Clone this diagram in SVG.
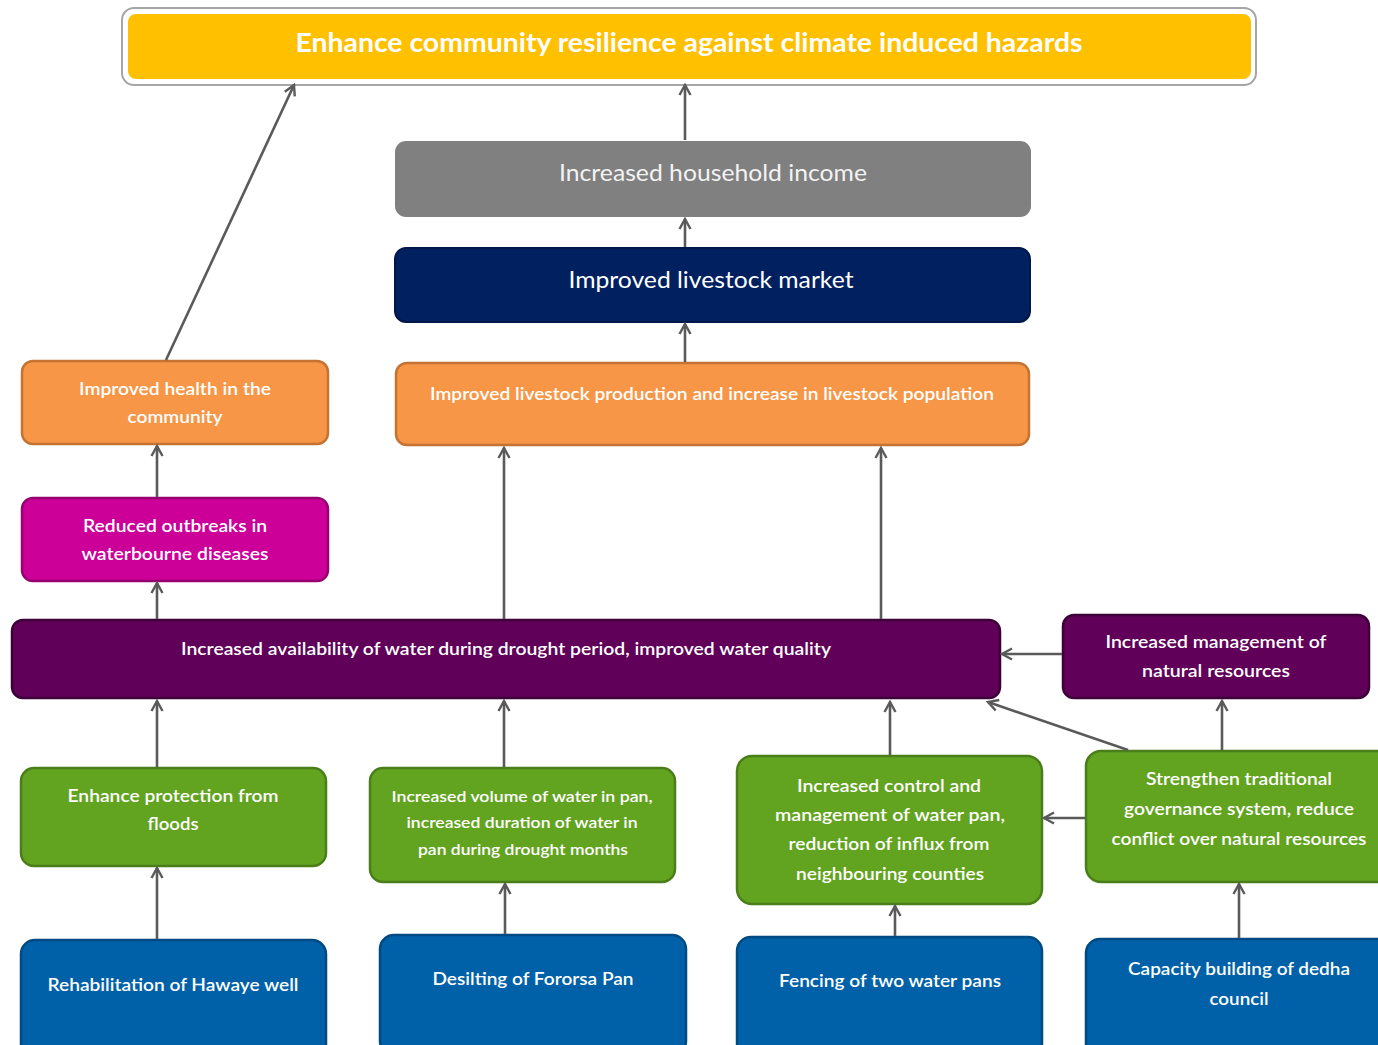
<svg xmlns="http://www.w3.org/2000/svg" width="1378" height="1045" viewBox="0 0 1378 1045">
<defs>
<marker id="ah" viewBox="0 0 14 14" refX="12" refY="7" markerWidth="14" markerHeight="14" markerUnits="userSpaceOnUse" orient="auto">
<path d="M2,1.5 L12,7 L2,12.5" fill="none" stroke="#5a5a5a" stroke-width="2.4" stroke-linejoin="miter"/>
</marker>
</defs>
<style>
text{font-family:Lato,"Liberation Sans",sans-serif;fill:#fff;text-anchor:middle;dominant-baseline:central}
.c{stroke:#5a5a5a;stroke-width:2.6;fill:none;marker-end:url(#ah)}
.b{stroke-width:2.5}
.org{fill:#F79646;stroke:#C47332}
.mag{fill:#CC0099;stroke:#99006F}
.pur{fill:#600058;stroke:#3E0038}
.grn{fill:#62A420;stroke:#4A7E18}
.blu{fill:#0061A8;stroke:#004A84}
.t18{font-size:18px;font-weight:600}
.t16{font-size:16px;font-weight:600}
.t24{font-size:24px}
</style>
<rect width="1378" height="1045" fill="#fff"/>
<g id="goal">
<rect x="122" y="8" width="1134" height="77" rx="12" fill="#fff" stroke="#a6a6a6" stroke-width="2"/>
<rect x="128" y="14" width="1123" height="65" rx="8" fill="#FFC000"/>
<text x="689" y="41" font-size="27" font-weight="bold" textLength="787" lengthAdjust="spacingAndGlyphs">Enhance community resilience against climate induced hazards</text>
</g>
<g id="income">
<rect x="395" y="141" width="636" height="76" rx="11" fill="#808080"/>
<text class="t24" x="713" y="171" textLength="308" lengthAdjust="spacingAndGlyphs" style="fill:#f2f2f2">Increased household income</text>
</g>
<g id="market">
<rect x="395" y="248" width="635" height="74" rx="11" fill="#002060" stroke="#001848" stroke-width="2"/>
<text class="t24" x="711" y="278" textLength="285" lengthAdjust="spacingAndGlyphs">Improved livestock market</text>
</g>
<g id="production">
<rect class="org b" x="396" y="363" width="633" height="82" rx="11"/>
<text class="t18" x="712" y="393" textLength="564" lengthAdjust="spacingAndGlyphs">Improved livestock production and increase in livestock population</text>
</g>
<g id="health">
<rect class="org b" x="22" y="361" width="306" height="83" rx="11"/>
<text class="t18" x="175" y="388" textLength="192" lengthAdjust="spacingAndGlyphs">Improved health in the</text>
<text class="t18" x="175" y="416" textLength="95" lengthAdjust="spacingAndGlyphs">community</text>
</g>
<g id="outbreaks">
<rect class="mag b" x="22" y="498" width="306" height="83" rx="11"/>
<text class="t18" x="175" y="525" textLength="184" lengthAdjust="spacingAndGlyphs">Reduced outbreaks in</text>
<text class="t18" x="175" y="553" textLength="187" lengthAdjust="spacingAndGlyphs">waterbourne diseases</text>
</g>
<g id="water">
<rect class="pur b" x="12" y="620" width="988" height="78" rx="11"/>
<text class="t18" x="506" y="648" textLength="650" lengthAdjust="spacingAndGlyphs">Increased availability of water during drought period, improved water quality</text>
</g>
<g id="nrm">
<rect class="pur b" x="1063" y="615" width="306" height="83" rx="11"/>
<text class="t18" x="1216" y="641" textLength="221" lengthAdjust="spacingAndGlyphs">Increased management of</text>
<text class="t18" x="1216" y="670" textLength="148" lengthAdjust="spacingAndGlyphs">natural resources</text>
</g>
<g id="floods">
<rect class="grn b" x="21" y="768" width="305" height="98" rx="13"/>
<text class="t18" x="173" y="795" textLength="211" lengthAdjust="spacingAndGlyphs">Enhance protection from</text>
<text class="t18" x="173" y="823" textLength="51" lengthAdjust="spacingAndGlyphs">floods</text>
</g>
<g id="volume">
<rect class="grn b" x="370" y="768" width="305" height="114" rx="13"/>
<text class="t16" x="522" y="795" textLength="261" lengthAdjust="spacingAndGlyphs">Increased volume of water in pan,</text>
<text class="t16" x="522" y="821" textLength="231" lengthAdjust="spacingAndGlyphs">increased duration of water in</text>
<text class="t16" x="523" y="848" textLength="210" lengthAdjust="spacingAndGlyphs">pan during drought months</text>
</g>
<g id="control">
<rect class="grn b" x="737" y="756" width="305" height="148" rx="15"/>
<text class="t18" x="889" y="785" textLength="184" lengthAdjust="spacingAndGlyphs">Increased control and</text>
<text class="t18" x="890" y="814" textLength="230" lengthAdjust="spacingAndGlyphs">management of water pan,</text>
<text class="t18" x="889" y="843" textLength="201" lengthAdjust="spacingAndGlyphs">reduction of influx from</text>
<text class="t18" x="890" y="873" textLength="188" lengthAdjust="spacingAndGlyphs">neighbouring counties</text>
</g>
<g id="governance">
<rect class="grn b" x="1086" y="751" width="310" height="131" rx="15"/>
<text class="t18" x="1239" y="778" textLength="186" lengthAdjust="spacingAndGlyphs">Strengthen traditional</text>
<text class="t18" x="1239" y="808" textLength="230" lengthAdjust="spacingAndGlyphs">governance system, reduce</text>
<text class="t18" x="1239" y="838" textLength="255" lengthAdjust="spacingAndGlyphs">conflict over natural resources</text>
</g>
<g id="hawaye">
<rect class="blu b" x="21" y="940" width="305" height="120" rx="14"/>
<text class="t18" x="173" y="984" textLength="251" lengthAdjust="spacingAndGlyphs">Rehabilitation of Hawaye well</text>
</g>
<g id="desilting">
<rect class="blu b" x="380" y="935" width="306" height="120" rx="14"/>
<text class="t18" x="533" y="978" textLength="201" lengthAdjust="spacingAndGlyphs">Desilting of Fororsa Pan</text>
</g>
<g id="fencing">
<rect class="blu b" x="737" y="937" width="305" height="120" rx="14"/>
<text class="t18" x="890" y="980" textLength="222" lengthAdjust="spacingAndGlyphs">Fencing of two water pans</text>
</g>
<g id="capacity">
<rect class="blu b" x="1086" y="939" width="310" height="120" rx="14"/>
<text class="t18" x="1239" y="968" textLength="222" lengthAdjust="spacingAndGlyphs">Capacity building of dedha</text>
<text class="t18" x="1239" y="998" textLength="59" lengthAdjust="spacingAndGlyphs">council</text>
</g>
<g id="connectors">
<line class="c" x1="166" y1="360" x2="294" y2="85"/>
<line class="c" x1="685" y1="140" x2="685" y2="85"/>
<line class="c" x1="685" y1="247" x2="685" y2="219"/>
<line class="c" x1="685" y1="362" x2="685" y2="324"/>
<line class="c" x1="157" y1="497" x2="157" y2="446"/>
<line class="c" x1="157" y1="619" x2="157" y2="583"/>
<line class="c" x1="504" y1="619" x2="504" y2="448"/>
<line class="c" x1="881" y1="619" x2="881" y2="448"/>
<line class="c" x1="157" y1="767" x2="157" y2="701"/>
<line class="c" x1="504" y1="767" x2="504" y2="701"/>
<line class="c" x1="890" y1="755" x2="890" y2="702"/>
<line class="c" x1="157" y1="939" x2="157" y2="868"/>
<line class="c" x1="505" y1="934" x2="505" y2="884"/>
<line class="c" x1="895" y1="936" x2="895" y2="906"/>
<line class="c" x1="1239" y1="938" x2="1239" y2="884"/>
<line class="c" x1="1222" y1="750" x2="1222" y2="701"/>
<line class="c" x1="1062" y1="654" x2="1002" y2="654"/>
<line class="c" x1="1128" y1="750" x2="988" y2="702"/>
<line class="c" x1="1085" y1="818" x2="1044" y2="818"/>
</g>
</svg>
